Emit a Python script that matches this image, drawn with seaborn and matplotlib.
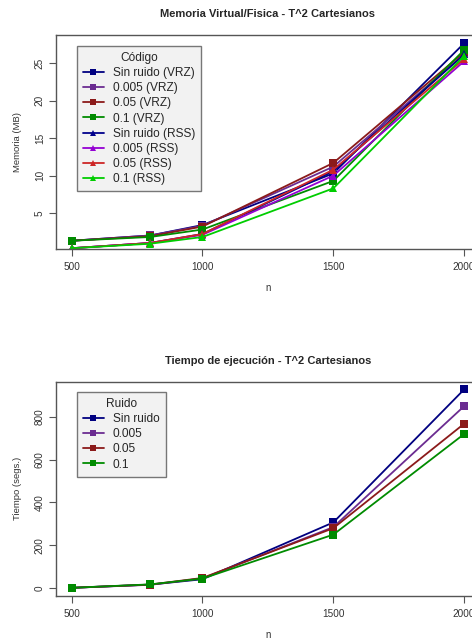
import matplotlib
matplotlib.use("Agg")
import matplotlib.pyplot as plt
import seaborn as sns
import pandas as pd

# data
n = [500, 800, 1000, 1500, 2000]

mem_labels = ["Sin ruido (VRZ)", "0.005 (VRZ)", "0.05 (VRZ)", "0.1 (VRZ)",
              "Sin ruido (RSS)", "0.005 (RSS)", "0.05 (RSS)", "0.1 (RSS)"]
mem_sin_vrz = [1.3, 2.0, 3.4, 10.3, 27.7]
mem_005_vrz = [1.3, 2.0, 3.3, 11.2, 26.2]
mem_05_vrz = [1.3, 1.9, 3.2, 11.7, 26.5]
mem_1_vrz = [1.3, 1.8, 2.8, 9.3, 26.8]
mem_sin_rss = [0.3, 1.0, 2.2, 10.6, 26.2]
mem_005_rss = [0.3, 1.0, 2.1, 10.0, 25.3]
mem_05_rss = [0.3, 1.0, 2.2, 10.8, 25.6]
mem_1_rss = [0.3, 0.9, 1.8, 8.3, 26.0]

time_labels = ["Sin ruido", "0.005", "0.05", "0.1"]
time_sin = [2, 17, 42, 307, 927]
time_005 = [2, 16, 46, 285, 849]
time_05 = [2, 17, 48, 280, 767]
time_1 = [2, 18, 45, 250, 719]

mem_colors = ["#000080", "#6B2C91", "#8B1A1A", "#008B00",
              "#00008B", "#9400D3", "#CD2626", "#00CD00"]
time_colors = ["#000080", "#6B2C91", "#8B1A1A", "#008B00"]

sns.set_style("ticks")
plt.rcParams['font.family'] = ['Liberation Sans', 'DejaVu Sans']

mem_vals = [mem_sin_vrz, mem_005_vrz, mem_05_vrz, mem_1_vrz,
            mem_sin_rss, mem_005_rss, mem_05_rss, mem_1_rss]
mem_df = pd.DataFrame([(x, v, lab) for lab, vals in zip(mem_labels, mem_vals)
                       for x, v in zip(n, vals)], columns=["n", "mem", "serie"])
time_vals = [time_sin, time_005, time_05, time_1]
time_df = pd.DataFrame([(x, v, lab) for lab, vals in zip(time_labels, time_vals)
                        for x, v in zip(n, vals)], columns=["n", "t", "serie"])

fig = plt.figure(figsize=(4.72, 6.4), dpi=100)
ax1 = fig.add_axes([0.1186, 0.611, 0.898, 0.3343])
ax2 = fig.add_axes([0.1186, 0.0688, 0.898, 0.3348])

mem_markers = {lab: ("s" if "VRZ" in lab else "^") for lab in mem_labels}
sns.lineplot(data=mem_df, x="n", y="mem", hue="serie", style="serie",
             hue_order=mem_labels, style_order=mem_labels,
             palette=dict(zip(mem_labels, mem_colors)), markers=mem_markers,
             dashes=False, markersize=5.5, markeredgewidth=0, linewidth=1.3,
             ax=ax1)
sns.lineplot(data=time_df, x="n", y="t", hue="serie", style="serie",
             hue_order=time_labels, style_order=time_labels,
             palette=dict(zip(time_labels, time_colors)),
             markers={lab: "s" for lab in time_labels},
             dashes=False, markersize=5.5, markeredgewidth=0, linewidth=1.3,
             ax=ax2)

def style_axis(ax, title, ylabel, ylim, yticks):
    ax.set_xlim(440, 2060)
    ax.set_ylim(*ylim)
    ax.set_xticks([500, 1000, 1500, 2000])
    ax.set_yticks(yticks)
    ax.set_yticklabels([str(t) for t in yticks], rotation=90, va="center")
    ax.set_title(title, fontsize=8, fontweight="bold", pad=13)
    ax.set_xlabel("n", fontsize=7, color="#333333", labelpad=8)
    ax.set_ylabel(ylabel, fontsize=6.8, color="#333333", labelpad=9.5)
    ax.tick_params(axis="both", labelsize=7.2, length=5, width=0.8,
                   color="#555555", labelcolor="#333333")
    ax.tick_params(axis="x", pad=4.5)
    ax.tick_params(axis="y", pad=3)
    for s in ax.spines.values():
        s.set_visible(True)
        s.set_color("#555555")
        s.set_linewidth(1.0)

style_axis(ax1, "Memoria Virtual/Fisica - T^2 Cartesianos", "Memoria (MB)",
           (0.2, 28.8), [5, 10, 15, 20, 25])
style_axis(ax2, "Tiempo de ejecución - T^2 Cartesianos", "Tiempo (segs.)",
           (-36, 963), [0, 200, 400, 600, 800])

for ax, title, top in [(ax1, "Código", 0.950), (ax2, "Ruido", 0.953)]:
    h, l = ax.get_legend_handles_labels()
    leg = ax.legend(h, l, title=title, loc="upper left",
                    bbox_to_anchor=(0.0495, top), borderaxespad=0,
                    fontsize=8.6, title_fontsize=8.6,
                    markerscale=0.7, handlelength=1.75, handletextpad=0.75,
                    labelspacing=0.27, borderpad=0.5, fancybox=False,
                    framealpha=1, facecolor="#F2F2F2", edgecolor="#777777")
    leg.get_frame().set_linewidth(1.0)

fig.savefig("out.png", dpi=100)
